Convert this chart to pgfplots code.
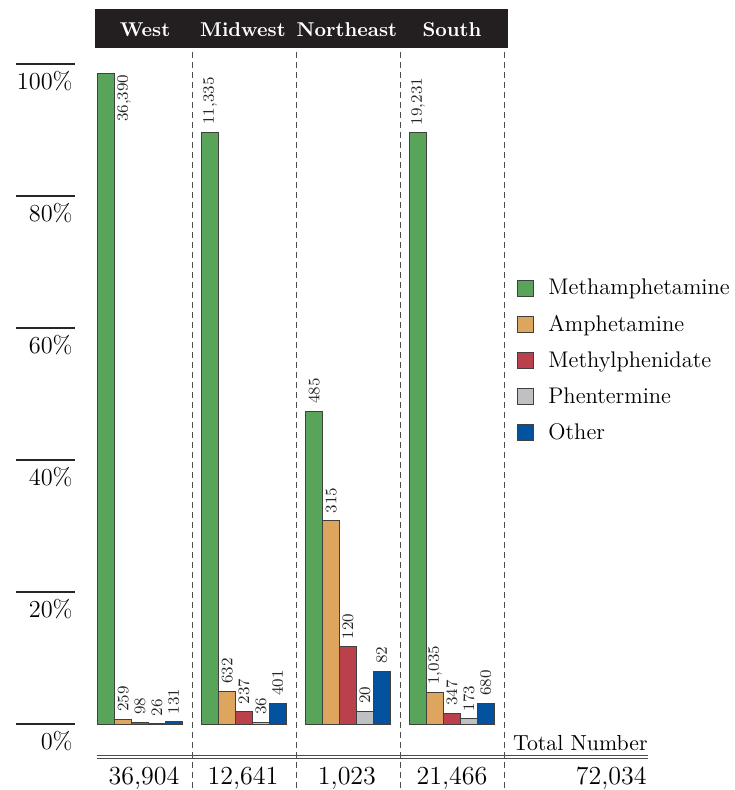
\documentclass[border=0pt]{standalone}
\usepackage{pgfplots}
\pgfplotsset{compat=1.18}

\definecolor{cMeth}{RGB}{88,164,88}
\definecolor{cAmph}{RGB}{221,165,93}
\definecolor{cMphd}{RGB}{186,64,76}
\definecolor{cPhen}{RGB}{190,192,196}
\definecolor{cOther}{RGB}{3,82,160}
\definecolor{hdr}{RGB}{35,31,32}

\begin{document}
\begin{tikzpicture}
\begin{axis}[
    scale only axis,
    width=208pt, height=330pt,
    xmin=-0.5, xmax=3.5, ymin=0, ymax=100,
    axis lines=none, clip=false,
    ybar, bar width=0.162,
    point meta=explicit,
    nodes near coords,
    /pgf/number format/fixed,
    /pgf/number format/precision=0,
    /pgf/number format/1000 sep={\mathord{,}},
    every node near coord/.append style={rotate=90, anchor=west,
        inner xsep=3.5pt, inner ysep=0pt,
        font=\fontsize{7.7}{9}\selectfont, text=black!85},
    legend image code/.code={\draw[#1] (0pt,-4pt) rectangle (8pt,4pt);},
    legend cell align=left,
    legend style={draw=none, fill=none, inner sep=0pt,
        at={(axis cs:3.625,68.05)}, anchor=north west,
        font=\fontsize{11.3}{13}\selectfont, row sep=4.6pt,
        /tikz/every odd column/.append style={column sep=5pt}},
]

% West methamphetamine: label sits beside the bar (no room above);
% the node is placed at the group centre, hence the shift to the left
\addplot[fill=cMeth, draw=black!75, line width=0.5pt, bar shift=-0.324, forget plot,
    every node near coord/.style={xshift=-11.5pt, yshift=-0.5pt, rotate=90,
        anchor=north east, inner sep=0pt,
        font=\fontsize{7.7}{9}\selectfont, text=black!85}]
    coordinates {(0,98.607) [36390]};

\addplot[fill=cMeth, draw=black!75, line width=0.5pt, bar shift=-0.324]
    coordinates {(1,89.669) [11335] (2,47.410) [485] (3,89.588) [19231]};
\addplot[fill=cAmph, draw=black!75, line width=0.5pt, bar shift=-0.162]
    coordinates {(0,0.702) [259] (1,5.000) [632] (2,30.792) [315] (3,4.822) [1035]};
\addplot[fill=cMphd, draw=black!75, line width=0.5pt, bar shift=0]
    coordinates {(0,0.266) [98] (1,1.875) [237] (2,11.730) [120] (3,1.617) [347]};
\addplot[fill=cPhen, draw=black!75, line width=0.5pt, bar shift=0.162]
    coordinates {(0,0.070) [26] (1,0.285) [36] (2,1.955) [20] (3,0.806) [173]};
\addplot[fill=cOther, draw=black!75, line width=0.5pt, bar shift=0.324]
    coordinates {(0,0.355) [131] (1,3.172) [401] (2,8.016) [82] (3,3.168) [680]};

\legend{Methamphetamine, Amphetamine, Methylphenidate, Phentermine, Other}

% y ticks: short rules with the label underneath
\pgfplotsinvokeforeach{0,20,40,60,80,100}{
    \draw[line width=0.6pt, black!85] (axis cs:-1.1923,#1) -- (axis cs:-0.625,#1);
    \node[anchor=north east, inner sep=0pt, yshift=-3.5pt,
          font=\fontsize{12.2}{14}\selectfont] at (axis cs:-0.644,#1) {#1\%};
}

% header band
\fill[hdr] (axis cs:-0.4327,102.42) rectangle (axis cs:3.5385,108.33);
\node[anchor=base, text=white, font=\bfseries\fontsize{10}{12}\selectfont] at (axis cs:0.048,104.09) {West};
\node[anchor=base, text=white, font=\bfseries\fontsize{10}{12}\selectfont] at (axis cs:0.990,104.09) {Midwest};
\node[anchor=base, text=white, font=\bfseries\fontsize{10}{12}\selectfont] at (axis cs:1.990,104.09) {Northeast};
\node[anchor=base, text=white, font=\bfseries\fontsize{10}{12}\selectfont] at (axis cs:3.000,104.09) {South};

% column separators
\pgfplotsinvokeforeach{0.5,1.5,2.5,3.5}{
    \draw[black!70, line width=0.5pt, dash pattern=on 3pt off 2pt] (axis cs:#1,101.82) -- (axis cs:#1,-11.5);
}

% totals row
\draw[black!70, line width=0.4pt] (axis cs:-0.4135,-4.697) -- (axis cs:4.8846,-4.697);
\draw[black!70, line width=0.4pt] (axis cs:-0.4135,-5.227) -- (axis cs:4.8846,-5.227);
\node[anchor=base east, inner sep=0pt, font=\fontsize{10.9}{12}\selectfont] at (axis cs:4.8846,-3.94) {Total Number};
\node[anchor=north, inner sep=0pt, font=\fontsize{13}{15}\selectfont] at (axis cs:0.038,-6.515) {36,904};
\node[anchor=north, inner sep=0pt, font=\fontsize{13}{15}\selectfont] at (axis cs:0.990,-6.515) {12,641};
\node[anchor=north, inner sep=0pt, font=\fontsize{13}{15}\selectfont] at (axis cs:1.990,-6.515) {1,023};
\node[anchor=north, inner sep=0pt, font=\fontsize{13}{15}\selectfont] at (axis cs:3.000,-6.515) {21,466};
\node[anchor=north east, inner sep=0pt, font=\fontsize{13}{15}\selectfont] at (axis cs:4.875,-6.515) {72,034};

\coordinate (TL) at (axis cs:-1.3462,109.697);
\coordinate (BR) at (axis cs:5.7212,-10);
\end{axis}
\pgfresetboundingbox
\useasboundingbox (TL) rectangle (BR);
\end{tikzpicture}
\end{document}
